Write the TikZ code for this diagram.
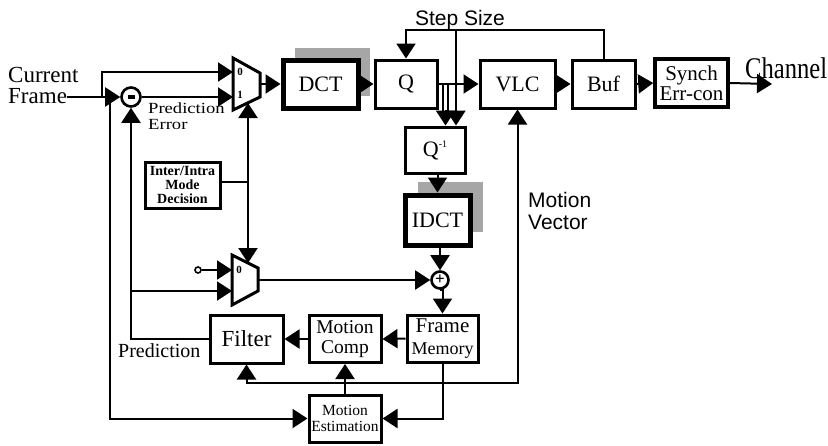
\documentclass[tikz,border=0pt]{standalone}
\usepackage{fontspec}
\setmainfont{Liberation Serif}
\setsansfont{Liberation Sans}
\usepackage{graphicx}
\usetikzlibrary{arrows.meta,calc}
\begin{document}
\begin{tikzpicture}[x=1pt,y=-1pt,
  conn/.style={line width=2pt},
  arr/.style={conn,-{Triangle[length=15pt,width=19pt]}},
  box/.style={draw,line width=3pt,inner sep=0pt,align=center,font=\fontsize{22}{22}\selectfont},
  bigbox/.style={box,line width=5pt},
  shadebox/.style={fill=black!35},
  mux/.style={draw,line width=3pt,line join=miter},
  lbl/.style={inner sep=0pt,align=left},
  small/.style={inner sep=0pt,font=\fontsize{11}{11}\selectfont\bfseries}
]
\useasboundingbox (0,0) rectangle (828,445);

% shadows
\fill[shadebox] (295,48) rectangle (370,96);
\fill[shadebox] (418,182) rectangle (483,232);

% boxes
\node[bigbox,fill=white,minimum width=75pt,minimum height=48pt] (dct) at (320.5,84) {DCT};
\node[box,minimum width=62pt,minimum height=48pt] (q) at (406,84) {Q};
\node[box,minimum width=75pt,minimum height=48pt] (vlc) at (517.5,84) {VLC};
\node[box,minimum width=63pt,minimum height=48pt] (buf) at (603.5,84) {Buf};
\node[box,line width=3.5pt,minimum width=73pt,minimum height=48pt,font=\fontsize{21}{20}\selectfont] (synch) at (691.5,83) {Synch\\Err-con};
\node[box,minimum width=60pt,minimum height=46pt] (qinv) at (435,150) {Q\raisebox{9pt}{\fontsize{10}{10}\selectfont -1}};
\node[bigbox,fill=white,minimum width=65pt,minimum height=50pt] (idct) at (437.5,220) {IDCT};
\node[draw,circle,line width=2.6pt,minimum size=17pt,inner sep=0pt,font=\fontsize{17}{17}\selectfont\bfseries] (add) at (440,280) {+};
\node[box,minimum width=71pt,minimum height=47pt] (fm) at (442.5,338.5) {\fontsize{21}{20}\selectfont Frame\\\fontsize{18}{18}\selectfont Memory};
\node[box,minimum width=72pt,minimum height=47pt,font=\fontsize{19.5}{19.5}\selectfont] (mcomp) at (345,339) {Motion\\Comp};
\node[box,minimum width=73pt,minimum height=48pt,font=\fontsize{23}{23}\selectfont] (filter) at (246.5,339) {Filter};
\node[box,minimum width=72pt,minimum height=47pt,font=\fontsize{15.5}{15.5}\selectfont] (me) at (345,418.5) {Motion\\Estimation};
\node[box,minimum width=75pt,minimum height=46pt,font=\fontsize{14}{14}\selectfont\bfseries] (ii) at (182.5,185) {Inter/Intra\\Mode\\Decision};
\node[draw,circle,line width=2.6pt,minimum size=19pt,inner sep=0pt] (sub) at (131,97) {\rule{7pt}{3.5pt}};
\node[draw,circle,line width=1.6pt,minimum size=6pt,inner sep=0pt] (zero) at (198,270) {};

% multiplexers
\draw[mux] (233,58) -- (260,73) -- (260,97) -- (233,110) -- cycle;
\coordinate (m1i0) at (233,72);
\coordinate (m1i1) at (233,97);
\coordinate (m1out) at (260,84);
\coordinate (m1s) at (248,103);
\node[small] (m1l0) at (240,72) {0};
\node[small] (m1l1) at (240,95) {1};
\draw[mux] (232,255) -- (258,268) -- (258,291) -- (232,305) -- cycle;
\coordinate (m2i0) at (232,270);
\coordinate (m2i1) at (232,291);
\coordinate (m2out) at (258,280);
\coordinate (m2s) at (248,263);
\node[small] (m2l0) at (239,270) {0};

% texts
\node[lbl,anchor=west,font=\fontsize{23}{23}\selectfont] (cur) at (8,75) {Current};
\node[lbl,anchor=west,font=\fontsize{23}{23}\selectfont] (frm) at (8,96) {Frame};
\node[lbl,anchor=north west,font=\fontsize{15.5}{15.5}\selectfont] (pe) at (148,103) {\scalebox{1.2}[1]{Prediction}\\\scalebox{1.2}[1]{Error}};
\node[lbl,anchor=north west,font=\fontsize{20}{20}\selectfont] (pred) at (118,343) {Prediction};
\node[lbl,anchor=base,font=\sffamily\fontsize{21}{21}\selectfont] (ss) at (460,25) {Step Size};
\node[lbl,anchor=west,font=\sffamily\fontsize{21}{22}\selectfont] (mv) at (528,211) {Motion\\Vector};
\node[lbl,anchor=base west] (chtxt) at (745,78) {\scalebox{0.82}[1]{\fontsize{30}{30}\selectfont Channel}};

% coordinates
\coordinate (ja) at (102,97);
\coordinate (jb) at (110,97);
\coordinate (sstop) at (406,30);
\coordinate (ssb) at (456,30);
\coordinate (qb1) at (443,84);
\coordinate (qb2) at (448,84);
\coordinate (qb1e) at (443,116);
\coordinate (qb2e) at (448,116);
\coordinate (qbm) at (445.5,110);
\coordinate (jsel) at (248,182);
\coordinate (jmv) at (345,383);
\coordinate (chan) at (772,84);

% connectors
\draw[arr] (frm.east |- sub.west) -- (sub.west);
\draw[arr] (ja) |- (m1i0);
\draw[arr] (jb) |- (me.west);
\draw[arr] (sub.east) -- (m1i1);
\draw[arr] (m1out) -- (dct.west);
\draw[arr] (dct.east) -- (q.west);
\draw[arr] (q.east) -- (vlc.west);
\draw[arr] (vlc.east) -- (buf.west);
\draw[arr] (buf.east) -- (synch.west);
\draw[arr] (synch.east) -- (chan);
\draw[arr] (buf.north) |- (sstop) -- (q.north);
\draw[arr] (ssb) -- (ssb |- qinv.north);
\draw[conn] (qb1) -- (qb1e);
\draw[conn] (qb2) -- (qb2e);
\draw[arr] (qbm) -- (qbm |- qinv.north);
\draw[arr] (qinv.south -| idct.north) -- (idct.north);
\draw[arr] (idct.south -| add.north) -- (add.north);
\draw[arr] (add.south) -- (add.south -| fm.north) -- (fm.north);
\draw[arr] (fm.west) -- (mcomp.east);
\draw[arr] (mcomp.west) -- (filter.east);
\draw[arr] (filter.west) -| (sub.south);
\draw[arr] (sub.south |- m2i1) -- (m2i1);
\draw[arr] (zero.east) -- (m2i0);
\draw[arr] (m2out) -- (add.west);
\draw[conn] (ii.east |- jsel) -- (jsel);
\draw[arr] (jsel) -- (m1s);
\draw[arr] (jsel) -- (m2s);
\draw[arr] (fm.south) |- (me.east);
\draw[arr] (me.north) -- (mcomp.south);
\draw[arr] (jmv) -| (filter.south);
\draw[arr] (jmv) -| (vlc.south);
\end{tikzpicture}
\end{document}
